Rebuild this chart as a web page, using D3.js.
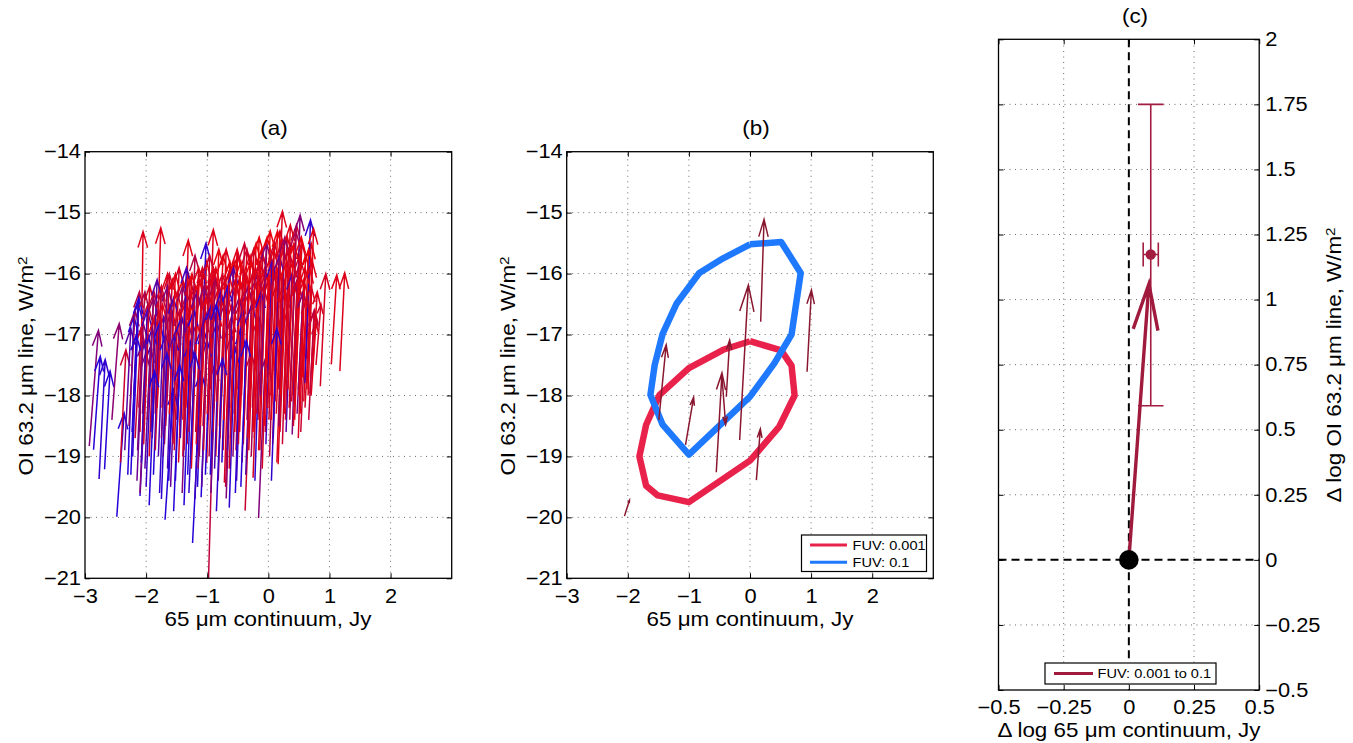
<!DOCTYPE html>
<html><head><meta charset="utf-8">
<script src="https://cdn.jsdelivr.net/npm/d3@7"></script>
<style>
body{margin:0;background:#fff}
text{font-family:"Liberation Sans",Arial,Helvetica,sans-serif;fill:#000}
</style>
</head><body>
<svg id="chart" width="1353" height="743"></svg>
<script>
// ---------------- DATA ----------------
const panelTitles = ["(a)", "(b)", "(c)"];
const xTicksAB = [-3, -2, -1, 0, 1, 2];
const yTicksAB = [-14, -15, -16, -17, -18, -19, -20, -21];
const xTicksC = [-0.5, -0.25, 0, 0.25, 0.5];
const yTicksC = [2, 1.75, 1.5, 1.25, 1, 0.75, 0.5, 0.25, 0, -0.25, -0.5];

// panel (a): arrows [x0, y0, x1, y1, fuvMix(0=blue .. 1=red)]
const arrowsA = [
  [-1.58,-18.1,-1.49,-16.3,0.95],[-1.54,-18.9,-1.45,-16.6,0.85],[-1.49,-17.9,-1.40,-16.1,1.0],
  [-1.45,-18.5,-1.36,-16.4,0.9],[-1.40,-19.0,-1.31,-16.0,0.95],[-1.36,-18.0,-1.27,-16.3,0.8],
  [-1.33,-18.8,-1.24,-16.5,1.0],[-1.29,-18.3,-1.20,-16.2,0.9],[-1.26,-19.2,-1.17,-16.8,0.95],
  [-1.22,-17.9,-1.13,-16.1,1.0],[-1.19,-18.6,-1.10,-16.4,0.85],[-1.16,-18.2,-1.07,-16.0,0.95],
  [-1.13,-19.0,-1.04,-16.7,0.9],[-1.10,-17.8,-1.01,-15.8,1.0],[-1.07,-18.5,-0.98,-16.3,0.95],
  [-1.04,-18.0,-0.95,-16.1,0.8],[-1.01,-19.1,-0.92,-16.5,1.0],[-0.98,-18.4,-0.89,-16.0,0.9],
  [-0.95,-17.9,-0.86,-15.9,0.95],[-0.92,-18.8,-0.83,-16.6,1.0],[-0.89,-18.2,-0.80,-16.2,0.85],
  [-0.86,-19.0,-0.77,-16.4,0.95],[-0.83,-17.7,-0.74,-15.7,1.0],[-0.80,-18.5,-0.71,-16.1,0.9],
  [-0.77,-18.1,-0.68,-16.3,0.95],[-0.74,-18.9,-0.65,-16.0,1.0],[-0.71,-17.8,-0.62,-15.9,0.8],
  [-0.68,-18.4,-0.59,-16.5,0.95],[-0.65,-18.0,-0.56,-15.8,1.0],[-0.62,-18.7,-0.53,-16.2,0.9],
  [-0.59,-17.6,-0.50,-15.7,0.95],[-0.56,-18.3,-0.47,-16.1,1.0],[-0.53,-18.9,-0.44,-16.4,0.85],
  [-0.50,-17.9,-0.41,-15.9,0.95],[-0.47,-18.6,-0.38,-16.0,1.0],[-0.44,-18.0,-0.35,-15.6,0.9],
  [-0.41,-18.8,-0.32,-16.3,0.95],[-0.38,-17.7,-0.29,-15.8,1.0],[-0.35,-18.4,-0.26,-16.0,0.85],
  [-0.32,-18.9,-0.23,-16.4,0.95],[-0.29,-17.9,-0.20,-15.5,1.0],[-0.26,-18.2,-0.17,-16.1,0.9],
  [-0.23,-18.7,-0.14,-15.8,0.95],[-0.20,-17.6,-0.11,-15.6,1.0],[-0.17,-18.4,-0.08,-16.2,0.85],
  [-0.14,-18.9,-0.05,-16.0,0.95],[-0.11,-17.8,-0.02,-15.4,1.0],[-0.08,-18.3,0.01,-16.1,0.9],
  [-0.05,-18.6,0.04,-15.7,0.95],[-0.02,-17.7,0.07,-15.9,1.0],[0.01,-18.4,0.10,-15.5,0.85],
  [0.04,-18.0,0.13,-16.2,0.95],[0.07,-18.8,0.16,-15.9,1.0],[0.10,-17.6,0.19,-15.3,0.9],
  [0.13,-18.3,0.22,-16.0,0.95],[0.16,-17.9,0.25,-15.6,1.0],[0.19,-18.6,0.28,-16.3,0.85],
  [0.22,-17.5,0.31,-15.4,0.95],[0.25,-18.1,0.34,-15.9,1.0],[0.28,-18.4,0.37,-15.5,0.9],
  [0.31,-17.7,0.40,-15.8,0.95],[0.34,-18.2,0.43,-16.2,1.0],[0.37,-17.6,0.46,-15.2,0.85],
  [0.40,-18.0,0.49,-15.9,0.95],[0.43,-18.4,0.52,-16.0,1.0],[0.46,-17.5,0.55,-15.5,0.9],
  [0.49,-17.9,0.58,-16.1,0.95],[0.52,-18.3,0.61,-15.7,1.0],[0.55,-17.6,0.64,-16.4,0.85],
  [0.58,-18.1,0.67,-15.9,0.95],[0.62,-17.4,0.70,-15.5,1.0],[0.70,-18.0,0.78,-16.8,0.95],
  [-2.20,-18.0,-2.11,-16.3,0.75],[-2.14,-18.9,-2.05,-16.8,0.5],[-2.06,-18.3,-1.97,-16.5,0.85],
  [-2.02,-19.2,-1.93,-17.2,0.3],[-1.96,-18.0,-1.87,-16.3,0.8],[-1.90,-18.7,-1.81,-16.6,0.55],
  [-1.84,-17.8,-1.75,-16.2,0.9],[-1.80,-19.0,-1.71,-16.7,0.25],[-1.74,-18.2,-1.65,-16.0,0.95],
  [-1.70,-18.8,-1.61,-16.5,0.6],[-1.66,-17.9,-1.57,-16.1,0.9],[-1.63,-19.4,-1.54,-17.0,0.1],
  [-2.93,-18.83,-2.78,-16.93,0.5],[-2.86,-18.89,-2.75,-17.36,0.05],[-2.77,-19.37,-2.67,-17.41,0.1],
  [-2.68,-19.21,-2.59,-17.60,0.05],[-2.56,-18.40,-2.44,-16.82,0.55],[-2.48,-19.99,-2.36,-18.29,0.05],
  [-2.42,-19.10,-2.33,-17.25,0.85],[-2.10,-18.60,-2.05,-15.31,0.95],[-1.85,-18.30,-1.76,-15.25,0.95],
  [-1.24,-20.42,-1.10,-17.60,0.05],[-1.69,-20.04,-1.55,-17.90,0.05],[-2.10,-19.65,-1.97,-17.00,0.1],
  [-0.99,-21.40,-0.88,-17.50,0.8],[-0.16,-20.01,-0.05,-17.40,0.5],[-0.38,-19.89,-0.28,-17.30,0.85],
  [-0.64,-19.84,-0.55,-17.20,0.1],[1.03,-17.49,1.12,-16.02,0.95],[1.17,-17.60,1.25,-15.99,0.95],
  [0.85,-17.85,0.94,-16.00,0.9],[0.68,-17.97,0.76,-16.60,0.9],[0.13,-17.50,0.23,-14.98,0.95],
  [0.42,-18.00,0.52,-15.04,0.5],[0.60,-17.80,0.69,-15.12,0.1],[0.65,-18.00,0.74,-15.26,0.95],
  [-1.12,-18.30,-1.02,-15.50,0.1],[-0.99,-18.10,-0.90,-15.28,0.95],[-1.40,-18.40,-1.31,-15.45,0.95],
  [-2.23,-18.60,-2.13,-16.48,0.1],[-2.10,-19.60,-2.00,-17.30,0.5],[-1.38,-19.80,-1.28,-17.10,0.05],
  [0.16,-19.13,0.25,-16.60,0.95],[0.49,-18.70,0.57,-16.30,0.9],[0.39,-18.64,0.47,-16.10,0.5],
  [-0.54,-19.60,-0.45,-16.90,0.05],[-0.69,-19.69,-0.60,-17.00,0.5],[-0.25,-19.35,-0.16,-16.70,0.9],
  [-0.72,-19.43,-0.63,-16.80,0.9],[-1.10,-19.67,-1.00,-17.10,0.05],[-1.16,-19.50,-1.06,-16.90,0.05],
  [-2.35,-18.9,-2.25,-16.9,0.3],[-2.30,-19.3,-2.20,-16.7,0.05],[-2.28,-18.5,-2.18,-16.6,0.6],
  [-2.22,-19.0,-2.12,-16.4,0.1],[-2.18,-18.7,-2.08,-16.9,0.85],[-2.15,-19.4,-2.05,-17.1,0.4],
  [-2.12,-18.2,-2.02,-16.3,0.7],[-2.08,-19.1,-1.98,-16.6,0.2],[-2.04,-18.8,-1.94,-16.2,0.9],
  [-2.00,-19.5,-1.90,-16.9,0.15],[-1.98,-18.4,-1.88,-16.4,0.6],[-1.95,-19.0,-1.86,-16.7,0.95],
  [-1.92,-18.6,-1.82,-16.1,0.3],[-1.88,-19.3,-1.78,-16.8,0.05],[-1.85,-18.9,-1.75,-16.3,0.8],
  [-1.82,-18.2,-1.73,-16.5,0.95],[-1.78,-19.6,-1.68,-17.0,0.1],[-1.75,-18.7,-1.65,-16.2,0.5],
  [-1.72,-19.0,-1.62,-16.0,0.9],[-1.68,-18.5,-1.58,-16.6,0.7],[-1.65,-19.2,-1.55,-16.4,0.2],
  [-1.62,-18.3,-1.52,-16.0,1.0],[-1.60,-19.5,-1.50,-16.9,0.35],[-1.56,-18.8,-1.46,-15.9,0.9],
  [-1.52,-19.4,-1.42,-16.7,0.1],[-1.50,-18.4,-1.40,-16.2,0.6],[-1.47,-19.1,-1.37,-16.5,0.95],
  [-1.44,-18.7,-1.34,-15.9,0.2],[-1.41,-19.6,-1.31,-16.8,0.5],[-1.38,-18.9,-1.28,-16.1,0.85],
  [-1.35,-18.2,-1.25,-16.0,1.0],[-1.32,-19.3,-1.22,-16.6,0.05],[-1.30,-18.6,-1.20,-15.7,0.75],
  [-1.27,-19.0,-1.17,-16.3,0.4],[-1.24,-18.4,-1.14,-15.9,0.95],[-1.20,-19.7,-1.10,-16.9,0.15],
  [-1.18,-18.8,-1.08,-15.9,0.9],[-1.15,-19.2,-1.05,-16.2,0.6],[-1.12,-18.5,-1.02,-16.4,1.0],
  [-1.09,-19.5,-0.99,-16.6,0.3],[-1.06,-18.9,-0.96,-15.7,0.85],[-1.03,-19.3,-0.93,-16.5,0.05],
  [-1.00,-18.3,-0.90,-15.9,0.95],[-0.97,-19.0,-0.87,-16.1,0.7],[-0.94,-19.6,-0.84,-16.8,0.45],
  [-0.91,-18.6,-0.81,-15.6,1.0],[-0.88,-19.2,-0.78,-16.3,0.2],[-0.85,-18.1,-0.75,-16.0,0.9],
  [-0.82,-19.4,-0.72,-16.5,0.6],[-0.79,-18.7,-0.69,-15.6,0.95],[-0.76,-19.1,-0.66,-16.2,0.1],
  [-0.73,-18.4,-0.63,-15.8,1.0],[-0.70,-19.5,-0.60,-16.7,0.75],[-0.67,-18.9,-0.57,-15.9,0.3],
  [-0.64,-19.2,-0.54,-16.1,0.9],[-0.61,-18.2,-0.51,-15.6,0.95],[-0.58,-19.0,-0.48,-16.4,0.5],
  [-0.55,-18.6,-0.45,-15.8,1.0],[-0.52,-19.4,-0.42,-16.6,0.15],[-0.49,-18.8,-0.39,-15.5,0.85],
  [-0.46,-18.3,-0.36,-16.0,0.95],[-0.43,-19.1,-0.33,-16.2,0.6],[-0.40,-18.5,-0.30,-15.7,1.0],
  [-0.37,-19.3,-0.27,-16.5,0.3],[-0.34,-18.7,-0.24,-15.6,0.9],[-0.31,-18.1,-0.21,-15.9,0.95],
  [-0.28,-19.0,-0.18,-16.0,0.7],[-0.25,-18.6,-0.15,-15.4,1.0],[-0.22,-19.4,-0.12,-16.3,0.1],
  [-0.19,-18.3,-0.09,-15.7,0.85],[-0.16,-18.9,-0.06,-15.9,0.95],[-0.13,-18.0,-0.03,-15.5,0.5],
  [-0.10,-19.2,0.00,-16.1,0.9],[-0.07,-18.5,0.03,-15.3,1.0],[-0.04,-18.8,0.06,-15.8,0.2],
  [-0.01,-18.2,0.09,-15.6,0.95],[0.02,-19.0,0.12,-16.0,0.75],[0.05,-18.4,0.15,-15.3,1.0],
  [0.08,-18.7,0.18,-15.7,0.4],[0.11,-18.1,0.21,-15.5,0.9],[0.14,-19.1,0.24,-16.2,0.95],
  [0.17,-18.5,0.27,-15.4,0.6],[0.20,-18.0,0.30,-15.8,1.0],[0.23,-18.8,0.33,-15.6,0.85],
  [0.26,-18.3,0.36,-15.2,0.95],[0.29,-18.6,0.39,-16.0,0.3],[0.32,-17.9,0.42,-15.5,1.0],
  [0.35,-18.4,0.45,-15.3,0.7],[0.38,-18.1,0.48,-16.1,0.95],[0.41,-18.5,0.51,-15.7,0.9],
  [0.44,-17.8,0.54,-15.4,1.0],[0.47,-18.3,0.57,-16.3,0.5],[0.50,-18.0,0.60,-15.9,0.95],
  [0.53,-18.6,0.63,-16.4,0.85],[0.56,-17.7,0.66,-15.6,1.0],[0.60,-18.2,0.70,-16.2,0.9],
  [0.63,-17.9,0.72,-15.8,0.95],[0.66,-18.4,0.75,-16.6,0.8],[0.72,-17.6,0.80,-16.3,0.95],
  [0.78,-17.5,0.86,-16.5,0.9],
  [-1.95,-19.8,-1.86,-17.6,0.05],[-1.55,-19.9,-1.45,-17.5,0.05],[-1.30,-19.6,-1.20,-17.3,0.1],
  [-0.85,-19.9,-0.75,-17.4,0.1],[-0.45,-19.5,-0.36,-17.1,0.05],[-1.75,-19.7,-1.66,-17.3,0.1],
  [-2.25,-19.3,-2.16,-17.0,0.05],[0.05,-19.4,0.14,-16.9,0.1],[-0.95,-19.3,-0.85,-16.5,0.05]
];

// panel (b): contours [x, y]
const contourFUV001 = [
  [0,-17.11],[0.51,-17.26],[0.68,-17.51],[0.73,-18.0],[0.48,-18.51],[0,-19.07],[-1.0,-19.75],
  [-1.51,-19.64],[-1.70,-19.48],[-1.81,-19.0],[-1.70,-18.48],[-1.48,-17.99],[-1.0,-17.55],[-0.44,-17.25],[0,-17.11]
];
const contourFUV01 = [
  [0,-15.52],[0.51,-15.48],[0.83,-15.99],[0.68,-17.0],[0.40,-17.47],[0,-18.02],[-1.0,-18.97],
  [-1.43,-18.48],[-1.63,-17.99],[-1.56,-17.50],[-1.43,-16.99],[-1.20,-16.49],[-0.83,-15.99],[-0.44,-15.75],[0,-15.52]
];
// panel (b): arrows [x0, y0, x1, y1]
const arrowsB = [
  [-2.055,-19.98,-1.973,-19.72],[-1.492,-18.40,-1.372,-17.17],[-1.055,-18.81,-0.923,-18.03],
  [-0.552,-19.26,-0.459,-17.63],[-0.388,-18.02,-0.333,-17.09],[-0.459,-17.69,-0.399,-18.48],
  [-0.169,-18.73,-0.027,-16.19],[0.175,-16.79,0.230,-15.11],[0.104,-19.39,0.169,-18.55],
  [0.934,-17.61,1.005,-16.27]
];
const legendB = ["FUV: 0.001", "FUV: 0.1"];

// panel (c)
const shiftC = [0, 0, 0.077, 1.06];          // mean shift arrow x0,y0,x1,y1
const errPointX = [0.084];
const errPointY = [1.173];
const errXHalf = [0.029];
const errYLow = [0.592];
const errYHigh = [1.75];
const legendC = ["FUV: 0.001 to 0.1"];

// ---------------- DRAWING ----------------
const SX = 1.12;
const TICK_FS = 19.5, LABEL_FS = 20;
const svg = d3.select("#chart");
const blueEnd = "#1c00e4", redEnd = "#e8000f";
const mixColor = d3.interpolateRgb(blueEnd, redEnd);
const minus = d => String(d).replace("-", "\u2212");

function arrowPath(x0, y0, x1, y1, a, b, maxHead) {
  const dx = x1 - x0, dy = y1 - y0, L = Math.hypot(dx, dy);
  let h = a * L; if (maxHead) h = Math.min(h, maxHead);
  const ux = dx / L, uy = dy / L;
  const bx = x1 - h * ux, by = y1 - h * uy, w = b * h;
  return `M${x0},${y0}L${x1},${y1}M${bx - w * uy},${by + w * ux}L${x1},${y1}L${bx + w * uy},${by - w * ux}`;
}
function stretchTicks(g) {
  g.selectAll(".tick text").each(function () {
    const t = d3.select(this); const x = +t.attr("x") || 0;
    t.attr("transform", `translate(${x},0) scale(${SX},1) translate(${-x},0)`);
  });
}
function label(x, y, txt, opts = {}) {
  const t = svg.append("text")
    .attr("transform", `translate(${x},${y}) rotate(${opts.rot || 0}) scale(${SX},1)`)
    .attr("text-anchor", opts.anchor || "middle")
    .attr("font-size", opts.size || LABEL_FS);
  t.append("tspan").text(txt);
  if (opts.sup) t.append("tspan").attr("dy", "-0.45em").attr("font-size", "0.68em").text(opts.sup);
  return t;
}
function frame(x, y, id) {
  const [x0, x1] = x.range(), [y0, y1] = y.range();
  svg.append("clipPath").attr("id", id).append("rect")
    .attr("x", x0).attr("y", y1).attr("width", x1 - x0).attr("height", y0 - y1);
}
function grid(x, y, xs, ys) {
  const [x0, x1] = x.range(), [y0, y1] = y.range();
  const g = svg.append("g").attr("stroke", "#6a6a6a").attr("stroke-width", 1).attr("stroke-dasharray", "1,4.5");
  g.selectAll(".gx").data(xs).join("line").attr("x1", d => x(d)).attr("x2", d => x(d)).attr("y1", y0).attr("y2", y1);
  g.selectAll(".gy").data(ys).join("line").attr("y1", d => y(d)).attr("y2", d => y(d)).attr("x1", x0).attr("x2", x1);
}
function box(x, y) {
  const [x0, x1] = x.range(), [y0, y1] = y.range();
  svg.append("rect").attr("x", x0).attr("y", y1).attr("width", x1 - x0).attr("height", y0 - y1)
    .attr("fill", "none").attr("stroke", "#000").attr("stroke-width", 1.3);
}
function axesStd(x, y, xt, yt, yRight) {
  const [x0, x1] = x.range(), [y0, y1] = y.range();
  const fmt = d => minus(d3.format("~g")(d));
  const gb = svg.append("g").attr("transform", `translate(0,${y0})`)
    .call(d3.axisBottom(x).tickValues(xt).tickSize(-5).tickSizeOuter(0).tickPadding(10.5).tickFormat(fmt));
  const gt = svg.append("g").attr("transform", `translate(0,${y1})`)
    .call(d3.axisTop(x).tickValues(xt).tickSize(-5).tickSizeOuter(0).tickFormat(""));
  let gy, gy2;
  if (!yRight) {
    gy = svg.append("g").attr("transform", `translate(${x0},0)`)
      .call(d3.axisLeft(y).tickValues(yt).tickSize(-5).tickSizeOuter(0).tickPadding(4).tickFormat(fmt));
    gy2 = svg.append("g").attr("transform", `translate(${x1},0)`)
      .call(d3.axisRight(y).tickValues(yt).tickSize(-5).tickSizeOuter(0).tickFormat(""));
  } else {
    gy = svg.append("g").attr("transform", `translate(${x1},0)`)
      .call(d3.axisRight(y).tickValues(yt).tickSize(-5).tickSizeOuter(0).tickPadding(6).tickFormat(fmt));
    gy2 = svg.append("g").attr("transform", `translate(${x0},0)`)
      .call(d3.axisLeft(y).tickValues(yt).tickSize(-5).tickSizeOuter(0).tickFormat(""));
  }
  [gb, gt, gy, gy2].forEach(g => {
    g.select(".domain").remove();
    g.selectAll("line").attr("stroke", "#000").attr("stroke-width", 1);
    g.selectAll("text").attr("font-size", TICK_FS).attr("font-family", "'Liberation Sans',Arial,sans-serif").attr("fill", "#000");
    stretchTicks(g);
  });
}

// ---- Panel (a)
const xa = d3.scaleLinear([-3, 3], [85, 451.7]);
const ya = d3.scaleLinear([-21, -14], [578.3, 151.7]);
frame(xa, ya, "clipA");
grid(xa, ya, xTicksAB.slice(1), yTicksAB.slice(1, -1));
svg.append("g").attr("clip-path", "url(#clipA)").attr("fill", "none").attr("stroke-width", 1.5)
  .attr("stroke-linejoin", "miter")
  .selectAll("path").data(arrowsA).join("path")
  .attr("stroke", d => mixColor(d[4]))
  .attr("d", d => arrowPath(xa(d[0]), ya(d[1]), xa(d[2]), ya(d[3]), 0.16, 0.3, 16));
box(xa, ya);
axesStd(xa, ya, xTicksAB, yTicksAB, false);
label(274, 134.5, panelTitles[0]);
label(268, 625.5, "65 \u03bcm continuum, Jy");
label(33, 366, "OI 63.2 \u03bcm line, W/m", { rot: -90, sup: "2" });

// ---- Panel (b)
const xb = d3.scaleLinear([-3, 3], [566.7, 933.3]);
const yb = d3.scaleLinear([-21, -14], [578.3, 151.7]);
frame(xb, yb, "clipB");
grid(xb, yb, xTicksAB.slice(1), yTicksAB.slice(1, -1));
const line = d3.line().x(d => xb(d[0])).y(d => yb(d[1]));
const gB = svg.append("g").attr("clip-path", "url(#clipB)");
gB.append("path").datum(contourFUV001).attr("d", line).attr("fill", "none")
  .attr("stroke", "#e8224b").attr("stroke-width", 6.5).attr("stroke-linejoin", "round");
gB.append("path").datum(contourFUV01).attr("d", line).attr("fill", "none")
  .attr("stroke", "#1f79ff").attr("stroke-width", 6.5).attr("stroke-linejoin", "round");
gB.append("g").attr("fill", "none").attr("stroke", "#8a1730").attr("stroke-width", 1.5)
  .selectAll("path").data(arrowsB).join("path")
  .attr("d", d => arrowPath(xb(d[0]), yb(d[1]), xb(d[2]), yb(d[3]), 0.17, 0.27));
box(xb, yb);
axesStd(xb, yb, xTicksAB, yTicksAB, false);
label(756, 134.5, panelTitles[1]);
label(750, 625.5, "65 \u03bcm continuum, Jy");
label(515, 366, "OI 63.2 \u03bcm line, W/m", { rot: -90, sup: "2" });
const lgB = svg.append("g");
lgB.append("rect").attr("x", 801.5).attr("y", 535).attr("width", 125).attr("height", 36.5)
  .attr("fill", "#fff").attr("stroke", "#000").attr("stroke-width", 1.2);
[["#e8224b", 0], ["#1f79ff", 1]].forEach(([c, i]) => {
  lgB.append("line").attr("x1", 810).attr("x2", 847).attr("y1", 545 + i * 17.3).attr("y2", 545 + i * 17.3)
    .attr("stroke", c).attr("stroke-width", 3);
  lgB.append("text").attr("transform", `translate(852.5,${549.5 + i * 17.3}) scale(${SX},1)`)
    .attr("font-size", 13).text(legendB[i]);
});

// ---- Panel (c)
const xc = d3.scaleLinear([-0.5, 0.5], [998.5, 1259.2]);
const yc = d3.scaleLinear([-0.5, 2], [690, 39.3]);
frame(xc, yc, "clipC");
grid(xc, yc, [-0.25, 0.25], yTicksC.filter(v => v !== 0 && v !== 2 && v !== -0.5));
const gC = svg.append("g").attr("clip-path", "url(#clipC)");
gC.append("line").attr("x1", xc(0)).attr("x2", xc(0)).attr("y1", yc(2)).attr("y2", yc(-0.5))
  .attr("stroke", "#000").attr("stroke-width", 2).attr("stroke-dasharray", "8,5");
gC.append("line").attr("x1", xc(-0.5)).attr("x2", xc(0.5)).attr("y1", yc(0)).attr("y2", yc(0))
  .attr("stroke", "#000").attr("stroke-width", 2).attr("stroke-dasharray", "8,5");
const ec = "#a21d40";
errPointX.forEach((px, i) => {
  const cx = xc(px), cy = yc(errPointY[i]);
  const ge = gC.append("g").attr("stroke", ec).attr("stroke-width", 1.6).attr("fill", "none");
  ge.append("line").attr("x1", cx).attr("x2", cx).attr("y1", yc(errYLow[i])).attr("y2", yc(errYHigh[i]));
  [errYLow[i], errYHigh[i]].forEach(v => ge.append("line").attr("x1", cx - 12.8).attr("x2", cx + 12.8).attr("y1", yc(v)).attr("y2", yc(v)));
  const xl = xc(px - errXHalf[i]), xr = xc(px + errXHalf[i]);
  ge.append("line").attr("x1", xl).attr("x2", xr).attr("y1", cy).attr("y2", cy);
  [xl, xr].forEach(v => ge.append("line").attr("x1", v).attr("x2", v).attr("y1", cy - 12).attr("y2", cy + 12));
  gC.append("circle").attr("cx", cx).attr("cy", cy).attr("r", 5.2).attr("fill", ec);
});
gC.append("path").attr("fill", "none").attr("stroke", "#a01a3d").attr("stroke-width", 3.4)
  .attr("stroke-linejoin", "miter")
  .attr("d", arrowPath(xc(shiftC[0]), yc(shiftC[1]), xc(shiftC[2]), yc(shiftC[3]), 0.166, 0.27));
gC.append("circle").attr("cx", xc(shiftC[0])).attr("cy", yc(shiftC[1])).attr("r", 9.8).attr("fill", "#000");
box(xc, yc);
axesStd(xc, yc, xTicksC, yTicksC, true);
label(1135, 22.5, panelTitles[2]);
label(1129, 737, "\u0394 log 65 \u03bcm continuum, Jy");
label(1341, 365, "\u0394 log OI 63.2 \u03bcm line, W/m", { rot: -90, sup: "2" });
const lgC = svg.append("g");
lgC.append("rect").attr("x", 1045).attr("y", 663).attr("width", 171).attr("height", 21)
  .attr("fill", "#fff").attr("stroke", "#000").attr("stroke-width", 1.2);
lgC.append("line").attr("x1", 1054).attr("x2", 1093).attr("y1", 673.5).attr("y2", 673.5)
  .attr("stroke", "#a01a3d").attr("stroke-width", 3);
lgC.append("text").attr("transform", `translate(1097.5,678.3) scale(${SX},1)`)
  .attr("font-size", 13).text(legendC[0]);
</script>
</body></html>
